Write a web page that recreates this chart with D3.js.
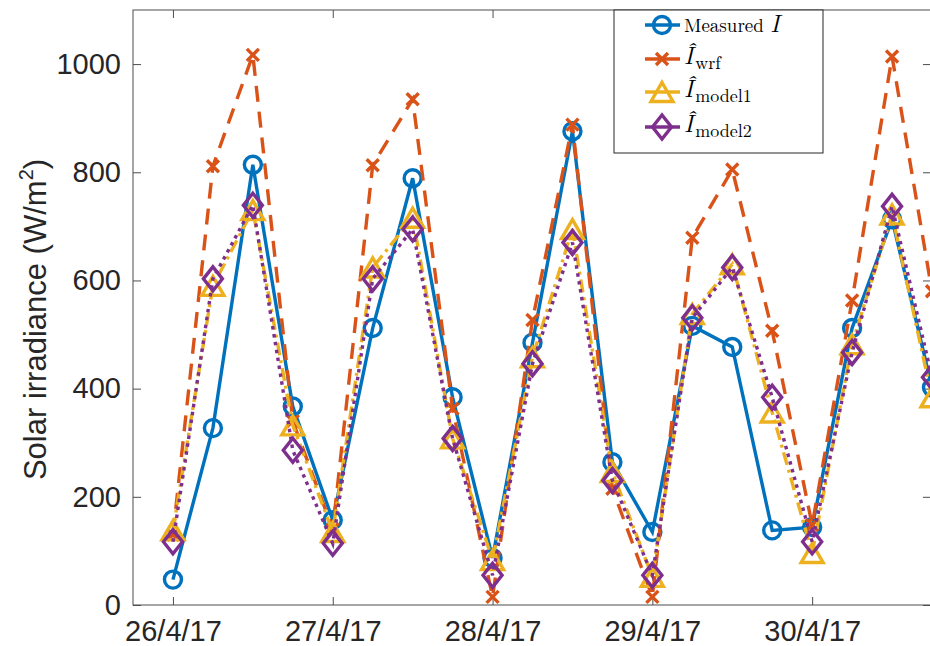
<!DOCTYPE html>
<html>
<head>
<meta charset="utf-8">
<script src="https://cdn.jsdelivr.net/npm/d3@7"></script>
<style>
  html, body { margin: 0; padding: 0; background: #fff; }
  svg { display: block; }
</style>
</head>
<body>
<svg id="chart" width="930" height="646"></svg>
<script>
// ---- data (days after 26/4/17 00:00) ----
const times    = [0, 0.25, 0.5, 0.75, 1, 1.25, 1.5, 1.75, 2, 2.25, 2.5, 2.75, 3, 3.25, 3.5, 3.75, 4, 4.25, 4.5, 4.75];
const measured = [47, 327, 814, 367, 157, 512, 789, 384, 87, 485, 876, 264, 135, 516, 477, 138, 144, 512, 713, 402];
const wrf      = [130, 811, 1017, 340, 140, 813, 935, 363, 15, 527, 888, 215, 15, 679, 805, 507, 148, 563, 1014, 580];
const model1   = [138, 590, 730, 332, 135, 624, 716, 308, 83, 458, 695, 246, 52, 538, 630, 356, 96, 482, 722, 384];
const model2   = [117, 603, 739, 286, 114, 603, 695, 308, 55, 446, 670, 230, 55, 531, 624, 384, 117, 467, 737, 421];

const xTickValues = [0, 1, 2, 3, 4];
const xTickLabels = ["26/4/17", "27/4/17", "28/4/17", "29/4/17", "30/4/17"];
const yTickValues = [0, 200, 400, 600, 800, 1000];
const xDomain = [-0.25, 4.75];
const yDomain = [0, 1100];

// ---- layout ----
const svg = d3.select("#chart");
const L = 133, R = 932, T = 10, B = 605;
const x = d3.scaleLinear().domain(xDomain).range([L, R]);
const y = d3.scaleLinear().domain(yDomain).range([B, T]);

const axisColor = "#262626";
const tickFont = "Liberation Sans, Arial, Helvetica, sans-serif";

// axes box
svg.append("rect").attr("x", L).attr("y", T).attr("width", R - L).attr("height", B - T)
  .attr("fill", "none").attr("stroke", "#4d4d4d").attr("stroke-width", 1);

// bottom axis (ticks inward)
const xAxisB = d3.axisBottom(x).tickValues(xTickValues).tickSize(-8)
  .tickFormat((d, i) => xTickLabels[i]);
const gxb = svg.append("g").attr("transform", `translate(0,${B})`).call(xAxisB);
gxb.select(".domain").remove();
gxb.selectAll("line").attr("stroke", "#4d4d4d");
gxb.selectAll("text").attr("font-family", tickFont).attr("font-size", 29).attr("fill", axisColor)
  .attr("dy", "0.72em").attr("y", 15);

// top axis ticks
const xAxisT = d3.axisTop(x).tickValues(xTickValues).tickSize(-8).tickFormat("");
const gxt = svg.append("g").attr("transform", `translate(0,${T})`).call(xAxisT);
gxt.select(".domain").remove();
gxt.selectAll("line").attr("stroke", "#4d4d4d");

// left axis
const yAxisL = d3.axisLeft(y).tickValues(yTickValues).tickSize(-8).tickPadding(12)
  .tickFormat(d3.format("d"));
const gyl = svg.append("g").attr("transform", `translate(${L},0)`).call(yAxisL);
gyl.select(".domain").remove();
gyl.selectAll("line").attr("stroke", "#4d4d4d");
gyl.selectAll("text").attr("font-family", tickFont).attr("font-size", 29).attr("fill", axisColor);

// right axis ticks
const yAxisR = d3.axisRight(y).tickValues(yTickValues).tickSize(-8).tickFormat("");
const gyr = svg.append("g").attr("transform", `translate(${R - 1},0)`).call(yAxisR);
gyr.select(".domain").remove();
gyr.selectAll("line").attr("stroke", "#4d4d4d");

// y label
const yl = svg.append("text")
  .attr("transform", `translate(46,${(T + B) / 2 + 12}) rotate(-90)`)
  .attr("text-anchor", "middle")
  .attr("font-family", tickFont).attr("font-size", 31).attr("fill", axisColor);
yl.append("tspan").text("Solar irradiance (W/m");
yl.append("tspan").attr("font-size", 20).attr("dy", -13).text("2");
yl.append("tspan").attr("dy", 13).text(")");

// ---- series ----
const colors = { blue: "#0072BD", orange: "#D95319", yellow: "#EDB120", purple: "#7E2F8E" };

function circlePath() { const p = d3.path(); p.arc(0, 0, 8.5, 0, 2 * Math.PI); p.closePath(); return p.toString(); }
function crossPath() { return "M-6,-6L6,6M-6,6L6,-6"; }
function triPath() { return "M0,-9.5L11,9.5L-11,9.5Z"; }
function diaPath() { return "M0,-12L9.5,0L0,12L-9.5,0Z"; }

const series = [
  { name: "measured", values: measured, color: colors.blue, dash: null, marker: circlePath },
  { name: "wrf", values: wrf, color: colors.orange, dash: "16,10", marker: crossPath },
  { name: "model1", values: model1, color: colors.yellow, dash: "13,5,3,5", marker: triPath },
  { name: "model2", values: model2, color: colors.purple, dash: "3.5,4.5", marker: diaPath },
];

const SW = 3.4;
const line = d3.line().x(d => x(d[0])).y(d => y(d[1]));
const gData = svg.append("g");

series.forEach(s => {
  const pts = times.map((t, i) => [t, s.values[i]]);
  const g = gData.append("g");
  g.append("path").datum(pts).attr("d", line)
    .attr("fill", "none").attr("stroke", s.color).attr("stroke-width", SW)
    .attr("stroke-dasharray", s.dash).attr("stroke-linejoin", "miter");
  g.selectAll("path.m").data(pts).enter().append("path").attr("class", "m")
    .attr("transform", d => `translate(${x(d[0])},${y(d[1])})`)
    .attr("d", s.marker())
    .attr("fill", "none").attr("stroke", s.color).attr("stroke-width", SW)
    .attr("stroke-linejoin", "miter");
});

// ---- legend ----
const lg = svg.append("g");
const lgX = 614, lgY = 10, lgW = 209, lgH = 143;
lg.append("rect").attr("x", lgX).attr("y", lgY).attr("width", lgW).attr("height", lgH)
  .attr("fill", "#fff").attr("stroke", axisColor).attr("stroke-width", 1);

const serif = "Latin Modern Roman, CMU Serif, Liberation Serif, DejaVu Serif, serif";
const rows = [
  { s: series[0], cy: 25, main: "Measured ", it: "I", sub: null },
  { s: series[1], cy: 59, it: "Î", sub: "wrf" },
  { s: series[2], cy: 92, it: "Î", sub: "model1" },
  { s: series[3], cy: 127, it: "Î", sub: "model2" },
];
rows.forEach(r => {
  lg.append("line").attr("x1", 645).attr("x2", 680).attr("y1", r.cy).attr("y2", r.cy)
    .attr("stroke", r.s.color).attr("stroke-width", SW);
  lg.append("path").attr("transform", `translate(662,${r.cy})`).attr("d", r.s.marker())
    .attr("fill", "none").attr("stroke", r.s.color).attr("stroke-width", SW);
  const t = lg.append("text").attr("x", 684).attr("font-family", serif).attr("fill", "#000");
  if (r.main) {
    t.attr("y", r.cy + 7);
    t.append("tspan").attr("font-size", 19).text(r.main);
    t.append("tspan").attr("font-size", 24).attr("font-style", "italic").text(r.it);
  } else {
    t.attr("y", r.cy + 5);
    t.append("tspan").attr("font-size", 24).attr("font-style", "italic").text(r.it);
    t.append("tspan").attr("font-size", 18).attr("dx", 2).attr("dy", 5).text(r.sub);
  }
});
</script>
</body>
</html>
